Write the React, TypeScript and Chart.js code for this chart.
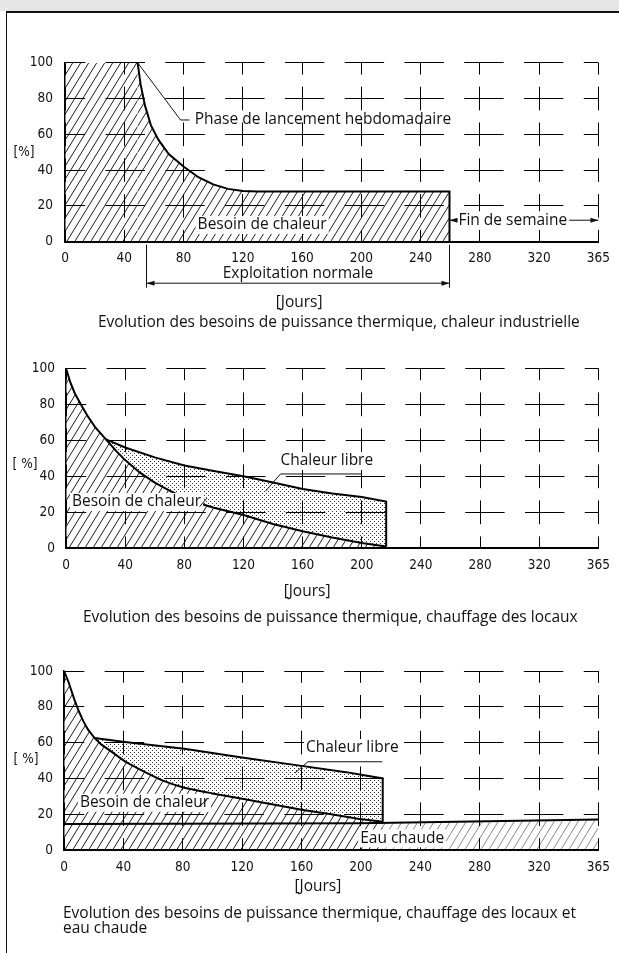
import React, { useEffect, useRef } from 'react';
import { Chart, registerables } from 'chart.js';

Chart.register(...registerables);

// ---------- data ----------
const X_TICKS = [0, 40, 80, 120, 160, 200, 240, 280, 320, 365];
const Y_TICKS = [0, 20, 40, 60, 80, 100];

// Chart 1 : chaleur industrielle
const indDays = [0, 49, 51, 54, 58, 63, 70, 80, 90, 100, 110, 120, 130, 259.5, 259.5];
const indNeed = [100, 100, 88, 76, 65, 57, 49, 42, 36, 32, 29.5, 28.3, 28, 28, 0];

// Chart 2 : chauffage des locaux
const locNeedDays = [0, 3, 6, 10, 15, 20, 27, 34, 40, 50, 60, 70, 80, 90, 100, 120, 140, 160, 180, 200, 216.5];
const locNeed = [100, 92, 86, 80, 73, 67, 60.5, 54, 49, 42, 36.5, 32, 28, 25, 22.5, 18.5, 13.5, 9.5, 6, 3, 1];
const locTotalDays = [27, 40, 60, 80, 100, 120, 140, 160, 180, 200, 216.5, 216.5];
const locTotal = [60.5, 56, 50.5, 46, 43, 40, 36.5, 33, 30.5, 28.5, 26, 1];

// Chart 3 : chauffage des locaux et eau chaude
const ecsNeedDays = [0, 3, 5, 7, 10, 13, 16, 20.5, 25, 31, 41, 50, 57, 65, 73, 81, 90, 100, 121, 140, 160, 180, 198, 214.7];
const ecsNeed = [100, 94, 89, 84, 77.5, 72, 67.5, 62.6, 59, 55.5, 49.5, 45.5, 42.5, 39.3, 36.8, 34.8, 33.2, 31.6, 28.5, 25.5, 22.5, 20, 17.5, 15.8];
const ecsTotalDays = [20.5, 41, 81, 121, 160, 190, 214.7, 214.7];
const ecsTotal = [62.6, 60.3, 56.5, 51.5, 47, 43.5, 40, 15.8];
const ecsDhwDays = [0, 200, 365];
const ecsDhw = [14.5, 15, 17];

// ---------- helpers ----------
const FONT_TXT = '"Open Sans", "DejaVu Sans", sans-serif';
const FONT_TICK = '"Liberation Sans Narrow", "DejaVu Sans Condensed", "Liberation Sans", sans-serif';
const INK = '#111';
const XAXIS_H = 30;

// last interval (320 -> 365) is drawn with the same width as the others
function compress(d: number) {
  return d <= 320 ? d : 320 + ((d - 320) * 40) / 45;
}
function toPts(days: number[], vals: number[]) {
  return days.map((d, i) => ({ x: compress(d), y: vals[i] }));
}

function makeHatch(color: string, bg: string | null) {
  const w = 8, h = 13;
  const c = document.createElement('canvas');
  c.width = w; c.height = h;
  const g = c.getContext('2d')!;
  if (bg) { g.fillStyle = bg; g.fillRect(0, 0, w, h); }
  g.strokeStyle = color; g.lineWidth = 1;
  g.beginPath();
  for (const k of [-1, 0, 1]) { g.moveTo(k * w, h); g.lineTo(k * w + w, 0); }
  g.stroke();
  return g.createPattern(c, 'repeat')!;
}
function makeDots() {
  const c = document.createElement('canvas');
  c.width = 4; c.height = 4;
  const g = c.getContext('2d')!;
  g.fillStyle = '#fff'; g.fillRect(0, 0, 4, 4);
  g.fillStyle = '#333'; g.fillRect(0, 0, 1, 1); g.fillRect(2, 2, 1, 1);
  return g.createPattern(c, 'repeat')!;
}

function textAt(ctx: CanvasRenderingContext2D, s: string, x: number, y: number, align: CanvasTextAlign = 'left', bg = false, font?: string) {
  ctx.save();
  ctx.font = font || `15.5px ${FONT_TXT}`;
  ctx.textAlign = align;
  ctx.textBaseline = 'middle';
  const w = ctx.measureText(s).width;
  if (bg) {
    const x0 = align === 'center' ? x - w / 2 : align === 'right' ? x - w : x;
    ctx.fillStyle = '#fff';
    ctx.fillRect(x0 - 2, y - 9, w + 4, 18);
  }
  ctx.fillStyle = INK;
  ctx.fillText(s, x, y);
  ctx.restore();
  return w;
}
function poly(ctx: CanvasRenderingContext2D, pts: number[][], lw = 1) {
  ctx.save();
  ctx.strokeStyle = INK; ctx.lineWidth = lw;
  ctx.beginPath();
  pts.forEach((p, i) => (i ? ctx.lineTo(p[0], p[1]) : ctx.moveTo(p[0], p[1])));
  ctx.stroke();
  ctx.restore();
}
function arrow(ctx: CanvasRenderingContext2D, x: number, y: number, dir: number) {
  ctx.save();
  ctx.fillStyle = INK;
  ctx.beginPath();
  ctx.moveTo(x, y); ctx.lineTo(x - dir * 8, y - 2.5); ctx.lineTo(x - dir * 8, y + 2.5);
  ctx.closePath(); ctx.fill();
  ctx.restore();
}

type Geo = { w: number; h: number; left: number; right: number; top: number; bottom: number; tickPad: number };

function scalesFor(geo: Geo) {
  const hPeriod = (geo.right - geo.left) / 9;
  const vPeriod = (geo.bottom - geo.top) / 5;
  const tickFont = { family: FONT_TICK, size: 13.5 };
  return {
    x: {
      type: 'linear', min: 0, max: 360,
      afterBuildTicks: (s: any) => { s.ticks = X_TICKS.map((d) => ({ value: compress(d) })); },
      afterFit: (s: any) => { s.height = XAXIS_H; },
      ticks: { callback: (_v: any, i: number) => String(X_TICKS[i]), font: tickFont, color: INK, padding: 9, maxRotation: 0, autoSkip: false },
      grid: { color: '#000', lineWidth: 1, drawTicks: false, z: 1 },
      border: { display: true, color: '#000', width: 2, dash: [vPeriod * 0.66, vPeriod * 0.34], dashOffset: vPeriod * 0.33, z: 1 },
    },
    y: {
      type: 'linear', min: 0, max: 100,
      afterBuildTicks: (s: any) => { s.ticks = Y_TICKS.map((v) => ({ value: v })); },
      afterFit: (s: any) => { s.width = 40; },
      ticks: { callback: (v: any) => String(v), font: tickFont, color: INK, padding: geo.tickPad },
      grid: { color: '#000', lineWidth: 1, drawTicks: false, z: 1 },
      border: { display: true, color: '#000', width: 1.5, dash: [hPeriod * 0.66, hPeriod * 0.34], dashOffset: hPeriod * 0.33, z: 1 },
    },
  };
}

function makeChart(canvas: HTMLCanvasElement, geo: Geo, datasets: any[], annotate: (c: any) => void) {
  return new Chart(canvas, {
    type: 'line',
    data: { datasets },
    options: {
      responsive: false,
      animation: false,
      events: [],
      layout: { padding: { left: geo.left - 40, right: geo.w - geo.right, top: geo.top, bottom: geo.h - geo.bottom - XAXIS_H } },
      plugins: { legend: { display: false }, tooltip: { enabled: false }, title: { display: false } },
      elements: { point: { radius: 0 }, line: { tension: 0 } },
      scales: scalesFor(geo) as any,
    },
    plugins: [{ id: 'annot', afterDraw: (c: any) => annotate(c) }],
  } as any);
}

function mappers(c: any) {
  const X = (d: number) => c.scales.x.getPixelForValue(compress(d));
  const Y = (v: number) => c.scales.y.getPixelForValue(v);
  return { X, Y, ctx: c.ctx as CanvasRenderingContext2D, b: c.chartArea.bottom, l: c.chartArea.left };
}

const PCT_FONT = `13.5px ${FONT_TICK}`;

function annot1(c: any) {
  const { X, Y, ctx, b, l } = mappers(c);
  poly(ctx, [[X(49), Y(100)], [X(78), Y(68)], [X(84), Y(68)]]);
  textAt(ctx, 'Phase de lancement hebdomadaire', X(87.5), Y(68));
  textAt(ctx, 'Besoin de chaleur', X(89.5), Y(9.3), 'left', true);
  const yf = Y(12);
  const tx = X(265.5);
  const w = textAt(ctx, 'Fin de semaine', tx, yf, 'left', true);
  poly(ctx, [[X(259.5), yf], [tx - 1, yf]]);
  arrow(ctx, X(259.5), yf, -1);
  poly(ctx, [[tx + w + 2, yf], [X(365), yf]]);
  arrow(ctx, X(365), yf, 1);
  const xl = X(55), xr = X(259.5);
  poly(ctx, [[xl, b + 3], [xl, b + 46]]);
  poly(ctx, [[xr, b + 3], [xr, b + 46]]);
  poly(ctx, [[xl, b + 41.5], [xr, b + 41.5]]);
  arrow(ctx, xl, b + 41.5, -1);
  arrow(ctx, xr, b + 41.5, 1);
  textAt(ctx, 'Exploitation normale', (xl + xr) / 2, b + 31.5, 'center');
  textAt(ctx, '[Jours]', X(158), b + 61.3, 'center');
  textAt(ctx, '[%]', l - 41, Y(49.6), 'center', false, PCT_FONT);
}

function annot2(c: any) {
  const { X, Y, ctx, b, l } = mappers(c);
  textAt(ctx, 'Chaleur libre', X(145), Y(48.5), 'left', true);
  poly(ctx, [[X(200), Y(41.3)], [X(145), Y(41.3)], [X(135), Y(31.8)]]);
  textAt(ctx, 'Besoin de chaleur', X(4), Y(25.7), 'left', true);
  poly(ctx, [[X(90.3), Y(23.1)], [X(95.2), Y(27.8)]]);
  textAt(ctx, '[Jours]', X(163), b + 43.7, 'center');
  textAt(ctx, '[ %]', l - 41, Y(46.3), 'center', false, PCT_FONT);
}

function annot3(c: any) {
  const { X, Y, ctx, b, l } = mappers(c);
  textAt(ctx, 'Chaleur libre', X(163), Y(57), 'left', true);
  poly(ctx, [[X(214.4), Y(49.3)], [X(164.3), Y(49.3)], [X(155.6), Y(43)]]);
  textAt(ctx, 'Besoin de chaleur', X(10.7), Y(26.4), 'left', true);
  poly(ctx, [[X(90.8), Y(24.2)], [X(96.2), Y(27.9)]]);
  textAt(ctx, 'Eau chaude', X(199.5), Y(6.5), 'left', true);
  textAt(ctx, '[Jours]', X(171), b + 37, 'center');
  textAt(ctx, '[ %]', l - 38, Y(50.3), 'center', false, PCT_FONT);
}

const GEO1: Geo = { w: 619, h: 323, left: 65, right: 603, top: 50.7, bottom: 229.7, tickPad: 12 };
const GEO2: Geo = { w: 619, h: 295, left: 66, right: 604, top: 33.3, bottom: 213.3, tickPad: 11 };
const GEO3: Geo = { w: 619, h: 323, left: 64, right: 603, top: 41, bottom: 220, tickPad: 11 };

const capStyle: React.CSSProperties = {
  position: 'absolute', font: `15.5px ${FONT_TXT}`, lineHeight: '15px', color: INK, whiteSpace: 'nowrap',
};

export default function App() {
  const r1 = useRef<HTMLCanvasElement>(null);
  const r2 = useRef<HTMLCanvasElement>(null);
  const r3 = useRef<HTMLCanvasElement>(null);

  useEffect(() => {
    const hatch = makeHatch('#1a1a1a', null);
    const hatchW = makeHatch('#1a1a1a', '#fff');
    const hatchLight = makeHatch('#8a8a8a', null);
    const dots = makeDots();

    const c1 = makeChart(r1.current!, GEO1, [
      {
        data: toPts(indDays, indNeed), fill: 'origin', backgroundColor: hatch,
        borderColor: '#000', borderWidth: 2,
        segment: { borderColor: (s: any) => (s.p1.parsed.x <= 49.5 ? 'rgba(0,0,0,0)' : '#000') },
      },
    ], annot1);

    const c2 = makeChart(r2.current!, GEO2, [
      { data: toPts(locNeedDays, locNeed), fill: 'origin', backgroundColor: hatchW, borderColor: '#000', borderWidth: 2, order: 2 },
      { data: toPts(locTotalDays, locTotal), fill: 'origin', backgroundColor: dots, borderColor: '#000', borderWidth: 2, order: 3 },
    ], annot2);

    const c3 = makeChart(r3.current!, GEO3, [
      { data: toPts(ecsNeedDays, ecsNeed), fill: 'origin', backgroundColor: hatchW, borderColor: '#000', borderWidth: 2, order: 2 },
      { data: toPts(ecsTotalDays, ecsTotal), fill: 'origin', backgroundColor: dots, borderColor: '#000', borderWidth: 2, order: 3 },
      { data: toPts(ecsDhwDays, ecsDhw), fill: 'origin', backgroundColor: hatchLight, borderWidth: 0, borderColor: 'rgba(0,0,0,0)', order: 4 },
      { data: toPts(ecsDhwDays, ecsDhw), fill: false, borderColor: '#000', borderWidth: 2, order: 0 },
    ], annot3);

    return () => { c1.destroy(); c2.destroy(); c3.destroy(); };
  }, []);

  return (
    <div style={{ position: 'absolute', left: 0, top: 0, width: 619, height: 953, background: '#fff', overflow: 'hidden' }}>
      <div style={{ position: 'absolute', left: 0, top: 0, width: 619, height: 11, background: '#e6e6e6' }} />
      <canvas ref={r1} width={619} height={323} style={{ position: 'absolute', left: 0, top: 12, width: 619, height: 323 }} />
      <canvas ref={r2} width={619} height={295} style={{ position: 'absolute', left: 0, top: 335, width: 619, height: 295 }} />
      <canvas ref={r3} width={619} height={323} style={{ position: 'absolute', left: 0, top: 630, width: 619, height: 323 }} />
      <div style={{ ...capStyle, left: 98, top: 313.5 }}>Evolution des besoins de puissance thermique, chaleur industrielle</div>
      <div style={{ ...capStyle, left: 83, top: 608.5 }}>Evolution des besoins de puissance thermique, chauffage des locaux</div>
      <div style={{ ...capStyle, left: 63, top: 904.5 }}>
        Evolution des besoins de puissance thermique, chauffage des locaux et<br />eau chaude
      </div>
      <div style={{ position: 'absolute', left: 6, top: 11, width: 613, height: 1.5, background: '#111' }} />
      <div style={{ position: 'absolute', left: 6, top: 11, width: 1, height: 942, background: '#111' }} />
    </div>
  );
}
